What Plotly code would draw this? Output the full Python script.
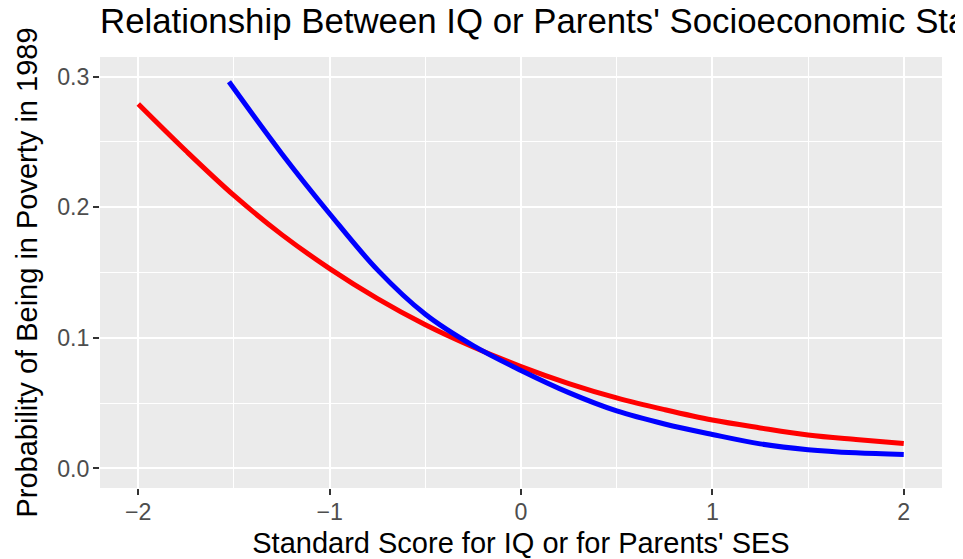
import plotly.graph_objects as go

# Parents' SES curve (red)
ses_x = [-2, -1.75, -1.5, -1.25, -1, -0.75, -0.5, -0.25, 0, 0.25, 0.5, 0.75, 1, 1.25, 1.5, 1.75, 2]
ses_y = [0.279, 0.243, 0.209, 0.179, 0.153, 0.130, 0.110, 0.093, 0.078, 0.065, 0.054, 0.045,
         0.037, 0.031, 0.0256, 0.0221, 0.019]

# IQ curve (blue)
iq_x = [-1.526, -1.25, -1, -0.75, -0.5, -0.25, 0, 0.25, 0.5, 0.75, 1, 1.25, 1.5, 1.75, 2]
iq_y = [0.296, 0.241, 0.195, 0.152, 0.118, 0.094, 0.075, 0.058, 0.044, 0.034, 0.026,
        0.0188, 0.0143, 0.0119, 0.0107]

x_ticks = [-2, -1, 0, 1, 2]
x_ticklabels = ["\u22122", "\u22121", "0", "1", "2"]
y_ticks = [0.0, 0.1, 0.2, 0.3]
y_ticklabels = ["0.0", "0.1", "0.2", "0.3"]

title_text = "Relationship Between IQ or Parents' Socioeconomic Status and Poverty"
x_title = "Standard Score for IQ or for Parents' SES"
y_title = "Probability of Being in Poverty in 1989"

FONT = "Liberation Sans, Arial, Helvetica, sans-serif"
BASE = 29

fig = go.Figure()
fig.add_trace(go.Scatter(x=ses_x, y=ses_y, mode="lines", name="Parents' SES",
                         line=dict(color="#FF0000", width=5, shape="spline", smoothing=1),
                         showlegend=False))
fig.add_trace(go.Scatter(x=iq_x, y=iq_y, mode="lines", name="IQ",
                         line=dict(color="#0000FF", width=5, shape="spline", smoothing=1),
                         showlegend=False))

axis_common = dict(
    showgrid=True, gridcolor="#FFFFFF", gridwidth=2,
    zeroline=False, showline=False,
    ticks="outside", ticklen=6, tickwidth=2, tickcolor="#333333",
    tickfont=dict(family=FONT, size=BASE * 0.8, color="#4D4D4D"),
    automargin=False,
)

# page body has an 8px margin, so the figure is 8px smaller than the window
fig.update_layout(
    width=955, height=551,
    margin=dict(l=92, r=21, t=49, b=71),
    paper_bgcolor="#FFFFFF", plot_bgcolor="#EBEBEB",
    font=dict(family=FONT, color="#000000"),
    title=dict(text=title_text, x=0, xref="paper", xanchor="left",
               y=1, yref="container", yanchor="top", pad=dict(t=1),
               font=dict(family=FONT, size=BASE * 1.2, color="#000000")),
    xaxis=dict(range=[-2.2, 2.2], tickvals=x_ticks, ticktext=x_ticklabels,
               ticklabelstandoff=-3,
               minor=dict(dtick=0.5, tick0=0, showgrid=True, gridcolor="#FFFFFF", gridwidth=1, ticks=""),
               title=dict(text=x_title, standoff=9, font=dict(family=FONT, size=BASE, color="#000000")),
               **axis_common),
    yaxis=dict(range=[-0.015, 0.315], tickvals=y_ticks, ticktext=y_ticklabels,
               ticklabelstandoff=-1,
               minor=dict(dtick=0.05, tick0=0, showgrid=True, gridcolor="#FFFFFF", gridwidth=1, ticks=""),
               title=dict(text=y_title, standoff=10, font=dict(family=FONT, size=BASE, color="#000000")),
               **axis_common),
)

fig.write_html("out.html")
